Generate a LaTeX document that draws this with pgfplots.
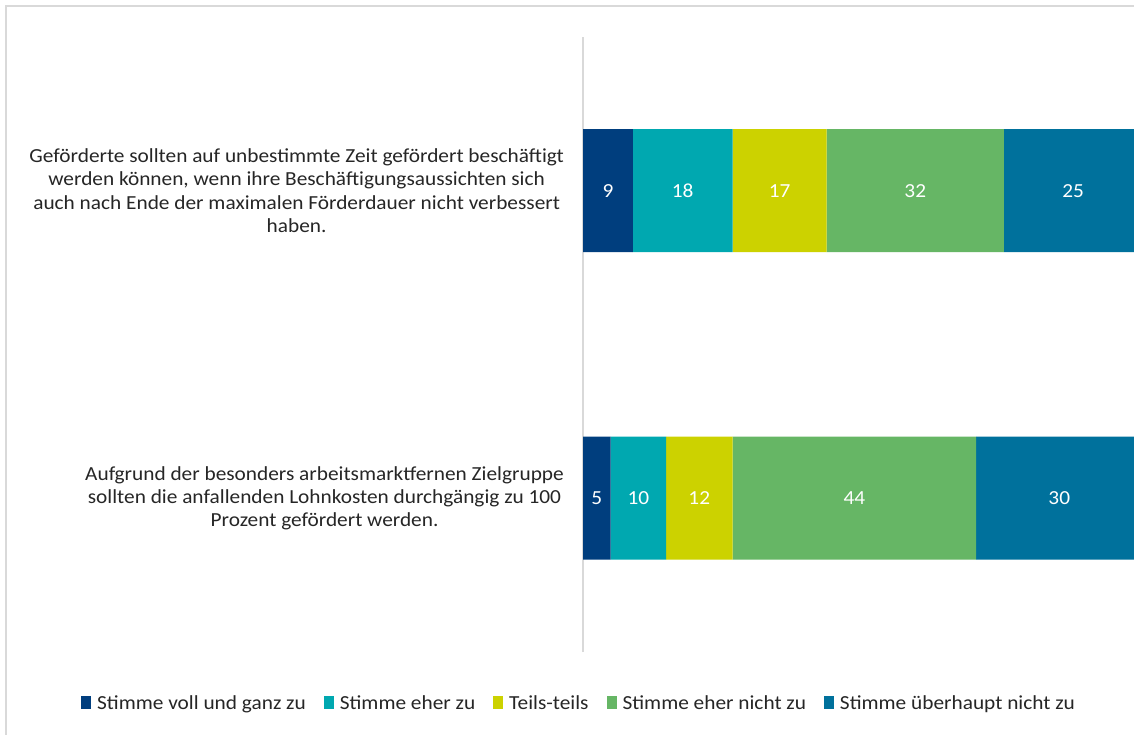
\documentclass[border=0pt]{standalone}
\usepackage{pgfplots}
\pgfplotsset{compat=1.18}
\usepackage{fontspec}
\setmainfont{Carlito}[FakeStretch=1.07]
\definecolor{c1}{RGB}{0,62,126}
\definecolor{c2}{RGB}{0,168,176}
\definecolor{c3}{RGB}{204,210,0}
\definecolor{c4}{RGB}{102,182,101}
\definecolor{c5}{RGB}{0,113,156}
\definecolor{frame}{RGB}{217,217,217}
\newcommand{\lf}{\fontsize{20}{23.5}\selectfont}
\begin{document}
\begin{tikzpicture}
\useasboundingbox (0,0) rectangle (1134bp,735bp);
\fill[white] (0,0) rectangle (1134bp,735bp);
\draw[frame, line width=2bp] (6bp,0) -- (6bp,729bp) -- (1134bp,729bp);
\begin{axis}[
  at={(583bp,83bp)}, anchor=south west,
  width=551bp, height=615bp, scale only axis,
  xbar stacked, bar width=0.4,
  xmin=0, xmax=99.5, ymin=-0.5, ymax=1.5,
  hide x axis,
  axis y line*=left,
  y axis line style={draw=frame, line width=1.2bp, -},
  ytick={0,1},
  yticklabels={{Aufgrund der besonders arbeitsmarktfernen Zielgruppe\\sollten die anfallenden Lohnkosten durchgängig zu 100\\Prozent gefördert werden.},
               {Geförderte sollten auf unbestimmte Zeit gefördert beschäftigt\\werden können, wenn ihre Beschäftigungsaussichten sich\\auch nach Ende der maximalen Förderdauer nicht verbessert\\haben.}},
  yticklabel style={align=center, inner sep=0pt, anchor=east, xshift=-19bp, font=\lf, text=black!85},
  major tick length=0pt,
  ytick style={draw=none},
  legend columns=5,
  legend style={at={(-0.0036,-0.083)}, anchor=center, draw=none, font=\lf, text=black!85,
    nodes={inner xsep=6bp},
    /tikz/every even column/.append style={column sep=12bp}},
  legend image code/.code={\fill[#1, draw=none] (0bp,-6bp) rectangle (10bp,7bp);},
]
\addplot[fill=c1, draw=none] coordinates {(9,1) (5,0)};
\addplot[fill=c2, draw=none] coordinates {(18,1) (10,0)};
\addplot[fill=c3, draw=none] coordinates {(17,1) (12,0)};
\addplot[fill=c4, draw=none] coordinates {(32,1) (44,0)};
\addplot[fill=c5, draw=none] coordinates {(25,1) (30,0)};
\legend{Stimme voll und ganz zu, Stimme eher zu, Teils-teils, Stimme eher nicht zu, Stimme überhaupt nicht zu}
\end{axis}
\begin{axis}[
  at={(583bp,83bp)}, anchor=south west,
  width=551bp, height=615bp, scale only axis,
  xmin=0, xmax=99.5, ymin=-0.5, ymax=1.5,
  hide axis,
]
\addplot[draw=none, mark=none, nodes near coords, point meta=explicit symbolic,
  nodes near coords style={anchor=center, text=white, font=\lf, text height=13bp, text depth=0bp}]
  coordinates {(4.5,1)[9] (18,1)[18] (35.5,1)[17] (60,1)[32] (88.5,1)[25]
               (2.5,0)[5] (10,0)[10] (21,0)[12] (49,0)[44] (86,0)[30]};
\end{axis}
\end{tikzpicture}
\end{document}
